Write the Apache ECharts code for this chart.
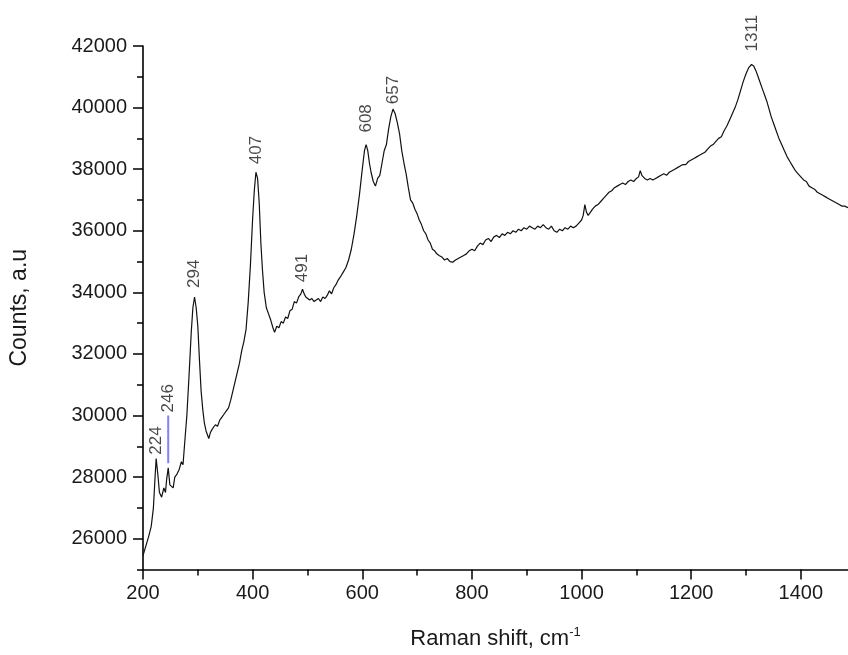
<!DOCTYPE html>
<html>
<head>
<meta charset="utf-8">
<script src="https://cdn.jsdelivr.net/npm/echarts@6/dist/echarts.min.js"></script>
<style>html,body{margin:0;padding:0;background:#fff}#c{width:848px;height:655px}</style>
</head>
<body>
<div id="c"></div>
<script>
// Raman spectrum
const ramanShift = [200,205,210,215,219,222,224,227,230,234,238,241,243,246,249,252,255,258,262,266,270,273,276,280,284,288,291,294,297,300,303,306,309,312,315,318,320,323,326,329,332,336,340,344,348,352,356,360,364,368,372,376,380,384,388,392,396,400,403,406,409,412,415,418,421,425,429,433,437,440,444,448,452,456,460,464,468,472,476,480,484,488,491,494,497,500,504,508,512,516,520,524,528,532,536,540,544,548,552,556,560,565,570,575,580,585,590,595,600,604,607,610,613,616,620,624,628,632,636,640,644,648,652,656,660,664,668,672,676,680,684,688,692,696,700,704,708,712,716,720,724,728,732,736,740,745,750,755,760,765,770,775,780,785,790,795,800,805,810,815,820,825,830,835,840,845,850,855,860,865,870,875,880,885,890,895,900,905,910,915,920,925,930,935,940,945,950,955,960,965,970,975,980,985,990,995,1000,1003,1006,1009,1012,1016,1020,1025,1030,1035,1040,1045,1050,1055,1060,1065,1070,1075,1080,1085,1090,1095,1100,1104,1107,1110,1115,1120,1125,1130,1135,1140,1145,1150,1155,1160,1165,1170,1175,1180,1185,1190,1195,1200,1205,1210,1215,1220,1225,1230,1235,1240,1245,1250,1255,1260,1265,1270,1275,1280,1285,1290,1295,1300,1305,1310,1314,1318,1322,1326,1330,1334,1338,1342,1346,1350,1355,1360,1365,1370,1375,1380,1385,1390,1395,1400,1405,1410,1415,1420,1425,1430,1435,1440,1445,1450,1455,1460,1465,1470,1475,1480,1486];
const counts = [25450,25750,26050,26400,27000,28000,28600,28100,27500,27350,27650,27500,27900,28300,27750,27800,27650,28000,28100,28250,28500,28400,29100,30000,31300,32700,33500,33850,33500,32900,31800,30800,30200,29750,29500,29350,29250,29450,29550,29500,29700,29650,29850,29950,30050,30150,30250,30500,30800,31100,31400,31700,32100,32400,32800,33700,34900,36400,37300,37900,37700,36900,35600,34700,34000,33500,33300,33100,32850,32700,32900,32850,33050,33000,33200,33150,33400,33450,33700,33650,33850,33950,34100,33950,33850,33900,33750,33800,33700,33750,33800,33700,33850,33800,33900,34050,33950,34150,34250,34400,34500,34650,34800,35050,35400,35900,36500,37200,38000,38600,38800,38600,38200,37900,37600,37450,37700,37800,38200,38600,38800,39300,39700,39950,39800,39500,39150,38600,38200,37850,37400,37000,36900,36700,36550,36350,36200,36000,35900,35700,35600,35400,35350,35250,35200,35150,35050,35100,35000,34980,35050,35100,35150,35200,35250,35350,35400,35350,35500,35600,35550,35700,35750,35650,35800,35850,35780,35900,35850,35950,35900,36000,35950,36050,36000,36100,36050,36150,36100,36050,36150,36100,36200,36100,36050,36150,36000,35950,36050,36000,36100,36050,36150,36100,36150,36250,36350,36500,36850,36600,36500,36600,36700,36800,36850,36950,37050,37150,37250,37300,37400,37450,37500,37550,37500,37600,37650,37600,37700,37750,37950,37800,37700,37650,37700,37650,37700,37750,37800,37850,37800,37900,37950,38000,38050,38100,38150,38150,38250,38300,38350,38400,38450,38500,38550,38650,38750,38800,38900,39000,39050,39250,39400,39600,39800,40000,40250,40550,40850,41100,41300,41400,41350,41200,41000,40800,40600,40400,40200,39950,39700,39500,39250,39000,38800,38600,38400,38250,38100,37950,37850,37750,37650,37600,37450,37400,37350,37250,37200,37150,37100,37050,37000,36950,36900,36850,36800,36800,36750];

// Peak annotations
const peakShift = [224, 246, 294, 407, 491, 608, 657, 1311];
const peakAnchor = [28600, 30000, 33850, 37900, 34100, 38800, 39950, 41400];
const peakText = ['224', '246', '294', '407', '491', '608', '657', '1311'];
const peakGap = [4, 3, 9, 8, 7, 12, 5, 13];

// Blue marker line at 246
const markerShift = [246, 246];
const markerCounts = [28450, 30000];

// Axis ticks
const xMajor = [200, 400, 600, 800, 1000, 1200, 1400];
const xMinor = [300, 500, 700, 900, 1100, 1300];
const yMajor = [26000, 28000, 30000, 32000, 34000, 36000, 38000, 40000, 42000];
const yMinor = [25000, 27000, 29000, 31000, 33000, 35000, 37000, 39000, 41000];

const FONT = '"Liberation Sans", Arial, Helvetica, sans-serif';
const spectrum = ramanShift.map((x, i) => [x, counts[i]]);
const peaks = peakShift.map((x, i) => ({
  value: [x, peakAnchor[i]],
  label: { distance: peakGap[i] },
  name: peakText[i]
}));
const marker = markerShift.map((x, i) => [x, markerCounts[i]]);
const plain = v => String(v);

const chart = echarts.init(document.getElementById('c'), null, { renderer: 'canvas' });
chart.setOption({
  animation: false,
  backgroundColor: '#ffffff',
  grid: { left: 143, right: 0, top: 46, bottom: 80, containLabel: false },
  xAxis: [{
    type: 'value', min: 200, max: 1486,
    name: 'Raman shift, cm{sup|-1}', nameLocation: 'middle', nameGap: 56,
    nameTextStyle: { fontFamily: FONT, fontSize: 22, color: '#1a1a1a',
      rich: { sup: { fontFamily: FONT, fontSize: 13, verticalAlign: 'top', padding: [0, 0, 14, 0], color: '#1a1a1a' } } },
    axisLine: { show: true, onZero: false, lineStyle: { color: '#000', width: 1.6 } },
    axisTick: { show: true, inside: false, length: 10, customValues: xMajor, lineStyle: { color: '#000', width: 1.5 } },
    axisLabel: { show: true, customValues: xMajor, formatter: plain, margin: 14, fontFamily: FONT, fontSize: 20, color: '#1a1a1a' },
    splitLine: { show: false }
  }, {
    type: 'value', min: 200, max: 1486, position: 'bottom', gridIndex: 0,
    axisLine: { show: false },
    axisTick: { show: true, length: 6, customValues: xMinor, lineStyle: { color: '#000', width: 1.5 } },
    axisLabel: { show: false },
    splitLine: { show: false }
  }],
  yAxis: [{
    type: 'value', min: 25000, max: 42000,
    name: 'Counts, a.u', nameLocation: 'middle', nameGap: 112, nameRotate: 90,
    nameTextStyle: { fontFamily: FONT, fontSize: 23, color: '#1a1a1a' },
    axisLine: { show: true, onZero: false, lineStyle: { color: '#000', width: 1.6 } },
    axisTick: { show: true, length: 10, customValues: yMajor, lineStyle: { color: '#000', width: 1.5 } },
    axisLabel: { show: true, customValues: yMajor, formatter: plain, margin: 16, fontFamily: FONT, fontSize: 20, color: '#1a1a1a' },
    splitLine: { show: false }
  }, {
    type: 'value', min: 25000, max: 42000, position: 'left', gridIndex: 0,
    axisLine: { show: false },
    axisTick: { show: true, length: 6, customValues: yMinor, lineStyle: { color: '#000', width: 1.5 } },
    axisLabel: { show: false },
    splitLine: { show: false }
  }],
  series: [{
    type: 'line', data: spectrum, showSymbol: false, symbol: 'none',
    lineStyle: { color: '#111', width: 1.2 }, z: 3
  }, {
    type: 'line', data: marker, showSymbol: false, symbol: 'none',
    lineStyle: { color: '#8080ff', width: 2 }, z: 2
  }, {
    type: 'scatter', data: peaks, symbolSize: 0, z: 4,
    label: {
      show: true, position: 'top', rotate: 90, align: 'left', verticalAlign: 'middle',
      formatter: p => p.name, fontFamily: FONT, fontSize: 17, color: '#1a1a1a'
    }
  }]
});
</script>
</body>
</html>
